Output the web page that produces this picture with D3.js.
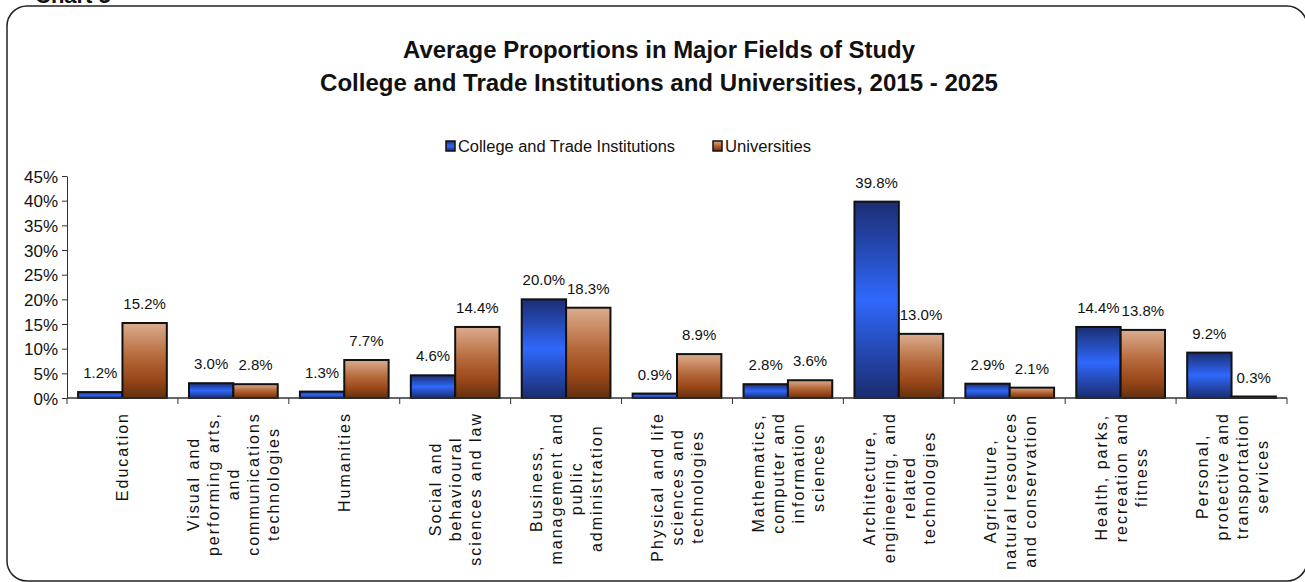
<!DOCTYPE html>
<meta charset="utf-8">
<style>
    body { margin: 0; background: #fff; }
    text { font-family: "Liberation Sans", Arial, sans-serif; fill: #111; }
    .axis path, .axis line { stroke: #333; }
</style>
<svg width="1305" height="582"></svg>
<script src="https://cdn.jsdelivr.net/npm/d3@7/dist/d3.min.js"></script>
<script>

    // chart data
    var categories = [
        ["Education"],
        ["Visual and", "performing arts,", "and", "communications", "technologies"],
        ["Humanities"],
        ["Social and", "behavioural", "sciences and law"],
        ["Business,", "management and", "public", "administration"],
        ["Physical and life", "sciences and", "technologies"],
        ["Mathematics,", "computer and", "information", "sciences"],
        ["Architecture,", "engineering, and", "related", "technologies"],
        ["Agriculture,", "natural resources", "and conservation"],
        ["Health, parks,", "recreation and", "fitness"],
        ["Personal,", "protective and", "transportation", "services"]
    ];
    var seriesNames = ["College and Trade Institutions", "Universities"];
    var collegeValues = [1.2, 3.0, 1.3, 4.6, 20.0, 0.9, 2.8, 39.8, 2.9, 14.4, 9.2];
    var universityValues = [15.2, 2.8, 7.7, 14.4, 18.3, 8.9, 3.6, 13.0, 2.1, 13.8, 0.3];
    var yTicks = [0, 5, 10, 15, 20, 25, 30, 35, 40, 45];

    var svg = d3.select("svg");

    // gradients for the bars
    var defs = svg.append("defs");
    var gradients = [
        {id: "gBlue", stops: [["0%", "#1c2e72"], ["50%", "#2f68fb"], ["100%", "#1b2c6e"]]},
        {id: "gBrown", stops: [["0%", "#dcac8e"], ["45%", "#b5693a"], ["75%", "#994719"], ["100%", "#62300f"]]}
    ];
    gradients.forEach(function (g) {
        var lg = defs.append("linearGradient").attr("id", g.id)
            .attr("x1", 0).attr("y1", 0).attr("x2", 0).attr("y2", 1);
        g.stops.forEach(function (s) {
            lg.append("stop").attr("offset", s[0]).attr("stop-color", s[1]);
        });
    });
    var fills = ["url(#gBlue)", "url(#gBrown)"];

    // outer rounded frame and the cut off heading
    svg.append("rect")
        .attr("x", 7).attr("y", 6).attr("width", 1300).attr("height", 575)
        .attr("rx", 20).attr("fill", "none").attr("stroke", "#222").attr("stroke-width", 1.5);
    svg.append("text").attr("x", 35).attr("y", 3)
        .style("font-weight", "bold").style("font-size", "22px").text("Chart 5");

    // title
    svg.append("text").attr("x", 659).attr("y", 58).attr("text-anchor", "middle")
        .attr("textLength", 512).attr("lengthAdjust", "spacingAndGlyphs")
        .style("font-weight", "bold").style("font-size", "24px")
        .text("Average Proportions in Major Fields of Study");
    svg.append("text").attr("x", 659).attr("y", 91).attr("text-anchor", "middle")
        .attr("textLength", 678).attr("lengthAdjust", "spacingAndGlyphs")
        .style("font-weight", "bold").style("font-size", "24px")
        .text("College and Trade Institutions and Universities, 2015 - 2025");

    // legend
    var legendX = [446, 713];
    var legendW = [217, 86];
    seriesNames.forEach(function (name, i) {
        svg.append("rect").attr("x", legendX[i]).attr("y", 141).attr("width", 9).attr("height", 10)
            .attr("fill", fills[i]).attr("stroke", "#111").attr("stroke-width", 1.5);
        svg.append("text").attr("x", legendX[i] + 12).attr("y", 152)
            .attr("textLength", legendW[i]).attr("lengthAdjust", "spacingAndGlyphs")
            .style("font-size", "16px").text(name);
    });

    // scales
    var x0 = d3.scaleBand().domain(d3.range(categories.length)).range([67, 1287]).padding(0);
    var x1 = d3.scaleBand().domain([0, 1]).range([0, x0.bandwidth()]).paddingInner(0).paddingOuter(0.25);
    var y = d3.scaleLinear().domain([0, 45]).range([398, 176]);

    // y axis
    var yAxis = svg.append("g").attr("class", "axis").attr("transform", "translate(67,0)")
        .call(d3.axisLeft(y).tickValues(yTicks).tickSize(5).tickSizeOuter(0)
            .tickFormat(function (d) { return d + "%"; }));
    yAxis.selectAll("text").attr("x", -9).attr("dy", "0.36em")
        .style("font-size", "17px").style("font-family", "'Liberation Sans', Arial, sans-serif").attr("fill", "#111");

    // bars
    var rows = categories.map(function (c, i) {
        return [collegeValues[i], universityValues[i]];
    });
    var groups = svg.append("g").selectAll("g").data(rows).enter().append("g")
        .attr("transform", function (d, i) { return "translate(" + x0(i) + ",0)"; });

    groups.selectAll("rect").data(function (d) { return d; }).enter().append("rect")
        .attr("x", function (d, j) { return x1(j); })
        .attr("y", function (d) { return y(d); })
        .attr("width", x1.bandwidth())
        .attr("height", function (d) { return y(0) - y(d); })
        .attr("fill", function (d, j) { return fills[j]; })
        .attr("stroke", "#111").attr("stroke-width", 2);

    groups.selectAll("text").data(function (d) { return d; }).enter().append("text")
        .attr("x", function (d, j) { return x1(j) + x1.bandwidth() / 2; })
        .attr("y", function (d) { return y(d) - 14; })
        .attr("text-anchor", "middle")
        .style("font-size", "15px")
        .text(function (d) { return d.toFixed(1) + "%"; });

    // x axis line and boundary ticks
    var xAxis = svg.append("g").attr("class", "axis");
    xAxis.append("line").attr("x1", 67).attr("x2", 1287).attr("y1", y(0)).attr("y2", y(0))
        .attr("stroke", "#222").attr("stroke-width", 1.5);
    xAxis.selectAll("line.tick").data(d3.range(categories.length + 1)).enter().append("line")
        .attr("class", "tick")
        .attr("x1", function (d) { return 67 + d * x0.step(); })
        .attr("x2", function (d) { return 67 + d * x0.step(); })
        .attr("y1", y(0)).attr("y2", y(0) + 6);

    // rotated, multi line category labels
    var lineGap = 20;
    var labels = svg.append("g").selectAll("g").data(categories).enter().append("g");
    labels.each(function (lines, i) {
        var g = d3.select(this);
        var t = g.append("text").attr("text-anchor", "middle")
            .style("font-size", "16px").style("letter-spacing", "2px");
        lines.forEach(function (line, k) {
            t.append("tspan").attr("x", 0)
                .attr("y", (k - (lines.length - 1) / 2) * lineGap + 6)
                .text(line);
        });
        var maxLen = d3.max(t.selectAll("tspan").nodes(), function (n) { return n.getComputedTextLength(); });
        g.attr("transform", "translate(" + (x0(i) + x0.bandwidth() / 2) + "," + (412 + maxLen / 2) + ") rotate(-90)");
    });

</script>
